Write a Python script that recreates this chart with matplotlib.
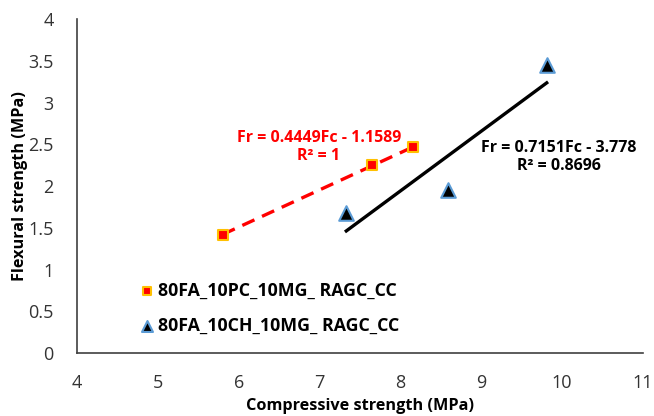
import matplotlib.pyplot as plt
import numpy as np

plt.rcParams["font.family"] = ["Open Sans", "DejaVu Sans"]

# data
pc_x = [5.8, 7.65, 8.16]
pc_y = [1.42, 2.25, 2.47]
ch_x = [7.33, 8.59, 9.81]
ch_y = [1.68, 1.95, 3.45]
pc_fit = (0.4449, -1.1589)
ch_fit = (0.7151, -3.778)

fig = plt.figure(figsize=(6.54, 4.16), dpi=100)
ax = fig.add_axes([0.118, 0.151, 0.865, 0.803])

xf = np.array([min(pc_x), max(pc_x)])
ax.plot(xf, pc_fit[0] * xf + pc_fit[1], color="#FF0000", lw=2.4, ls=(0, (4, 2.5)), zorder=2)
xf2 = np.array([min(ch_x), max(ch_x)])
ax.plot(xf2, ch_fit[0] * xf2 + ch_fit[1], color="black", lw=2.4, zorder=2)

ax.scatter(pc_x, pc_y, marker="s", s=55, facecolor="#FF0000", edgecolor="#FFC000",
           linewidth=1.5, zorder=3, label="80FA_10PC_10MG_ RAGC_CC")
ax.scatter(ch_x, ch_y, marker="^", s=110, facecolor="black", edgecolor="#5B9BD5",
           linewidth=1.5, zorder=3, label="80FA_10CH_10MG_ RAGC_CC")

ax.text(6.99, 2.47, "Fr = 0.4449Fc - 1.1589\nR² = 1", color="#FF0000", fontsize=11.5,
        fontweight="bold", ha="center", va="center", linespacing=1.15)
ax.text(9.96, 2.35, "Fr = 0.7151Fc - 3.778\nR² = 0.8696", color="black", fontsize=11.5,
        fontweight="bold", ha="center", va="center", linespacing=1.15)

ax.set_xlim(4, 11)
ax.set_ylim(0, 4)
ax.set_xticks(range(4, 12))
ax.set_yticks(np.arange(0, 4.01, 0.5))
ax.set_yticklabels(["0", "0.5", "1", "1.5", "2", "2.5", "3", "3.5", "4"])
ax.tick_params(length=0, labelsize=13, labelcolor="#333333")
ax.tick_params(axis="x", pad=15)
ax.tick_params(axis="y", pad=17)
for s in ["top", "right"]:
    ax.spines[s].set_visible(False)
for s in ["left", "bottom"]:
    ax.spines[s].set_color("#404040")
    ax.spines[s].set_linewidth(1.2)

ax.set_xlabel("Compressive strength (MPa)", fontsize=11.7, fontweight="bold", labelpad=4)
ax.set_ylabel("Flexural strength (MPa)", fontsize=11.7, fontweight="bold", labelpad=0)

ax.legend(loc="lower left", bbox_to_anchor=(0.077, 0.008), frameon=False,
          prop={"weight": "bold", "size": 12.8}, handletextpad=0.0, labelspacing=0.95,
          markerscale=0.75, handlelength=1.2)

fig.savefig("out.png", dpi=100)
